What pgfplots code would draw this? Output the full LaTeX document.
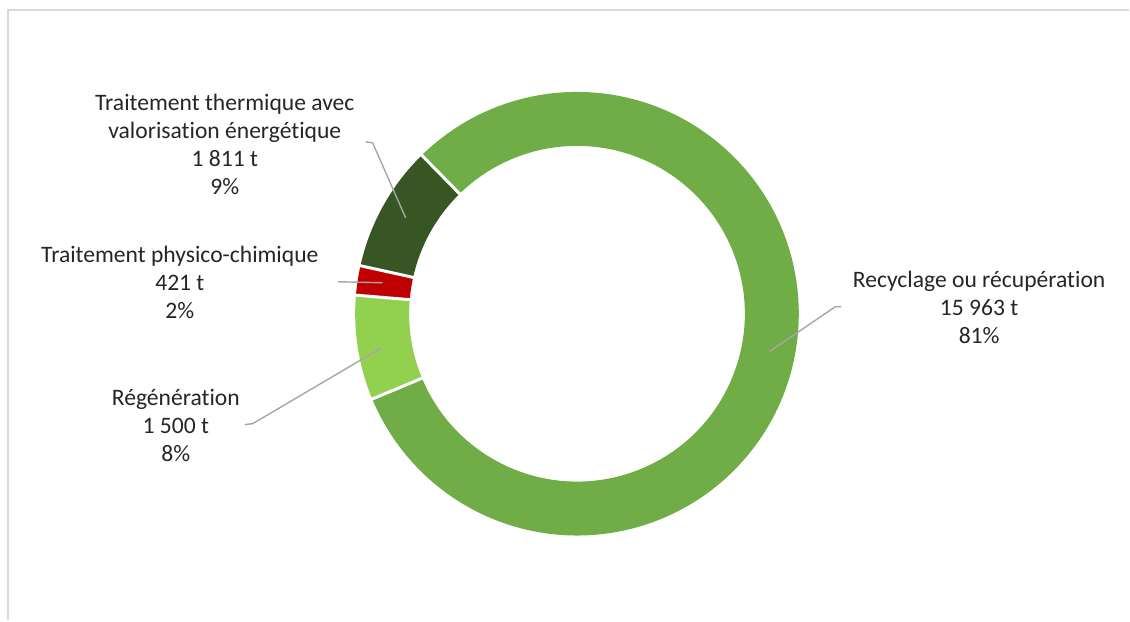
\documentclass[border=0pt]{standalone}
\usepackage{fontspec}
\setmainfont{Carlito}[Ligatures=NoCommon]
\usepackage{pgfplots}
\pgfplotsset{compat=1.18}
\usepackage{pgfplotstable}
\usetikzlibrary{calc}
\definecolor{cRec}{HTML}{70AD47}
\definecolor{cReg}{HTML}{92D050}
\definecolor{cPhy}{HTML}{C00000}
\definecolor{cThe}{HTML}{375623}
\definecolor{txt}{HTML}{262626}
\definecolor{leader}{HTML}{A6A6A6}
\definecolor{frame}{HTML}{D9D9D9}

\pgfplotstableread{
name value
Recyclage 15963
Regeneration 1500
Physico 421
Thermique 1811
}\datatable

\newcommand\sector[3]{%
  \fill[#1] ($(C)+(#2:111pt)$) arc[start angle=#2,end angle=#3,radius=111pt]
    -- ($(C)+(#3:84pt)$) arc[start angle=#3,end angle=#2,radius=84pt] -- cycle;}
\newcommand\sep[1]{%
  \draw[white,line width=1.5pt] ($(C)+(#1:83pt)$) -- ($(C)+(#1:112pt)$);}

\begin{document}
\begin{tikzpicture}
\pgfplotstablegetelem{0}{value}\of\datatable\edef\vA{\pgfplotsretval}
\pgfplotstablegetelem{1}{value}\of\datatable\edef\vB{\pgfplotsretval}
\pgfplotstablegetelem{2}{value}\of\datatable\edef\vC{\pgfplotsretval}
\pgfplotstablegetelem{3}{value}\of\datatable\edef\vD{\pgfplotsretval}
\edef\total{\fpeval{\vA+\vB+\vC+\vD}}
\edef\aA{134.4}
\edef\aB{\fpeval{\aA-360*\vA/\total}}
\edef\aC{\fpeval{\aB-360*\vB/\total}}
\edef\aD{\fpeval{\aC-360*\vC/\total}}
\edef\aE{\fpeval{\aD-360*\vD/\total}}
\begin{axis}[x=0.5pt,y=0.5pt,xmin=0,xmax=1130,ymin=0,ymax=621,
  hide axis,scale only axis,clip=false]
\path (axis cs:0,0) rectangle (axis cs:1130,621);
\draw[frame,line width=1pt] (axis cs:8,0) -- (axis cs:8,611) -- (axis cs:1130,611);
\coordinate (C) at (axis cs:577.5,307);
\sector{cRec}{\aA}{\aB}
\sector{cReg}{\aB}{\aC}
\sector{cPhy}{\aC}{\aD}
\sector{cThe}{\aD}{\aE}
\sep{\aA}\sep{\aB}\sep{\aC}\sep{\aD}
\begin{scope}[leader,line width=0.7pt]
\draw (axis cs:366,479) -- (axis cs:373,478) -- (axis cs:406,403);
\draw (axis cs:338,339) -- (axis cs:383,338);
\draw (axis cs:245,196) -- (axis cs:253,197) -- (axis cs:382,273);
\draw (axis cs:842,314) -- (axis cs:836,314) -- (axis cs:770,269);
\end{scope}
\begin{scope}[every node/.style={font=\fontsize{11.8}{14}\selectfont,align=center,text=txt,inner sep=0pt}]
\node at (axis cs:225,476) {Traitement thermique avec\\valorisation énergétique\\1 811 t\\9\%};
\node at (axis cs:180,338) {Traitement physico-chimique\\421 t\\2\%};
\node at (axis cs:176,195) {Régénération\\1 500 t\\8\%};
\node at (axis cs:980,313) {Recyclage ou récupération\\15 963 t\\81\%};
\end{scope}
\end{axis}
\end{tikzpicture}
\end{document}
